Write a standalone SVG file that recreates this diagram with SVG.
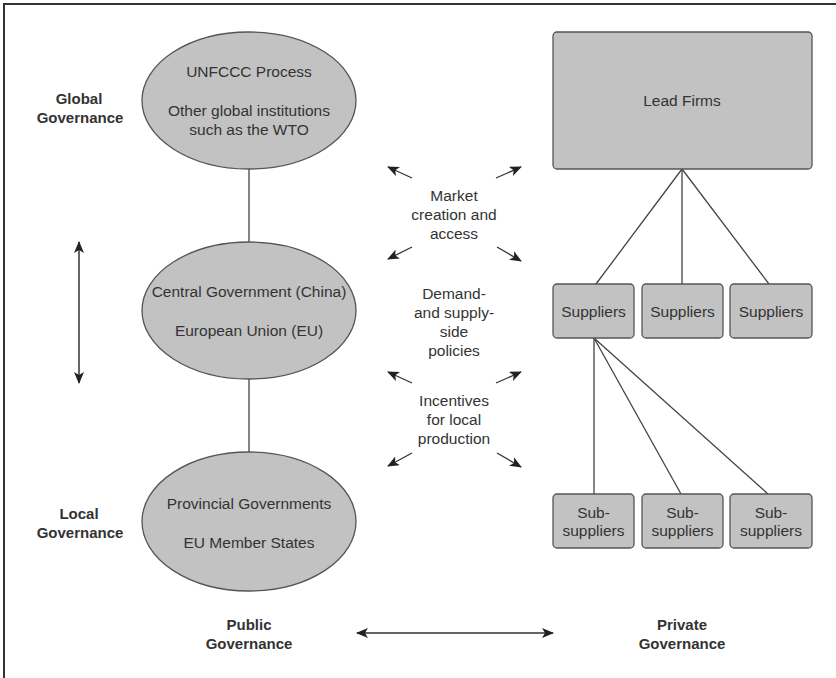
<svg xmlns="http://www.w3.org/2000/svg" width="836" height="678" viewBox="0 0 836 678">
  <style>
    .bg { fill: #ffffff; }
    .frame { stroke: #333333; stroke-width: 2; fill: none; }
    .ell { fill: #c2c2c2; stroke: #555555; stroke-width: 1.3; }
    .box { fill: #c2c2c2; stroke: #555555; stroke-width: 1.3; }
    .t { font-family: "Liberation Sans", Arial, sans-serif; font-size: 15.5px; fill: #333333; text-anchor: middle; }
    .b { font-family: "Liberation Sans", Arial, sans-serif; font-size: 15px; font-weight: bold; fill: #333333; text-anchor: middle; }
    .link { stroke: #444444; stroke-width: 1.3; fill: none; }
    .arr { stroke: #333333; stroke-width: 1.3; fill: none; marker-end: url(#head); }
    .darr { stroke: #333333; stroke-width: 1.5; fill: none; marker-start: url(#head); marker-end: url(#head); }
  </style>
  <defs>
    <marker id="head" viewBox="0 0 12 10" refX="11" refY="5" markerWidth="12" markerHeight="10" markerUnits="userSpaceOnUse" orient="auto-start-reverse">
      <path d="M0,0 L12,5 L0,10 L3,5 z" fill="#222222"/>
    </marker>
  </defs>
  <rect class="bg" x="0" y="0" width="836" height="678"/>
  <path class="frame" d="M4,678 L4,4 L836,4"/>

  <g id="labels">
    <text class="b" x="79" y="103.5">Global</text>
    <text class="b" x="80" y="122.5">Governance</text>
    <text class="b" x="79" y="518.5">Local</text>
    <text class="b" x="80" y="537.5">Governance</text>
    <text class="b" x="249" y="629.5">Public</text>
    <text class="b" x="249" y="648.5">Governance</text>
    <text class="b" x="682" y="629.5">Private</text>
    <text class="b" x="682" y="648.5">Governance</text>
  </g>

  <g id="connectors">
    <line class="link" x1="249" y1="169" x2="249" y2="242"/>
    <line class="link" x1="249" y1="379" x2="249" y2="452"/>
    <line class="link" x1="682" y1="169" x2="596" y2="284"/>
    <line class="link" x1="682" y1="169" x2="682" y2="284"/>
    <line class="link" x1="682" y1="169" x2="769" y2="284"/>
    <line class="link" x1="594" y1="338" x2="594" y2="494"/>
    <line class="link" x1="594" y1="338" x2="681" y2="494"/>
    <line class="link" x1="594" y1="338" x2="768" y2="494"/>
    <line class="darr" x1="79" y1="242" x2="79" y2="383"/>
    <line class="darr" x1="357" y1="633" x2="553" y2="633"/>
    <line class="arr" x1="412" y1="178" x2="388" y2="167"/>
    <line class="arr" x1="496" y1="178" x2="521" y2="167"/>
    <line class="arr" x1="412" y1="247" x2="388" y2="259"/>
    <line class="arr" x1="497" y1="247" x2="521" y2="261"/>
    <line class="arr" x1="412" y1="383" x2="388" y2="372"/>
    <line class="arr" x1="496" y1="383" x2="521" y2="372"/>
    <line class="arr" x1="412" y1="453" x2="388" y2="466"/>
    <line class="arr" x1="497" y1="453" x2="521" y2="467"/>
  </g>

  <g id="global">
    <ellipse class="ell" cx="249" cy="100.5" rx="107" ry="68.5"/>
    <text class="t" x="249" y="76.5">UNFCCC Process</text>
    <text class="t" x="249" y="115.5">Other global institutions</text>
    <text class="t" x="249" y="135">such as the WTO</text>
  </g>
  <g id="central">
    <ellipse class="ell" cx="249" cy="310.5" rx="107" ry="68.5"/>
    <text class="t" x="249" y="297">Central Government (China)</text>
    <text class="t" x="249" y="336">European Union (EU)</text>
  </g>
  <g id="local">
    <ellipse class="ell" cx="249" cy="521.5" rx="107" ry="69.5"/>
    <text class="t" x="249" y="508.5">Provincial Governments</text>
    <text class="t" x="249" y="547.5">EU Member States</text>
  </g>

  <g id="policies">
    <text class="t" x="454" y="200.5">Market</text>
    <text class="t" x="454" y="219.5">creation and</text>
    <text class="t" x="454" y="238.5">access</text>
    <text class="t" x="454" y="298.5">Demand-</text>
    <text class="t" x="454" y="317.5">and supply-</text>
    <text class="t" x="454" y="336.5">side</text>
    <text class="t" x="454" y="355.5">policies</text>
    <text class="t" x="454" y="405.5">Incentives</text>
    <text class="t" x="454" y="424.5">for local</text>
    <text class="t" x="454" y="443.5">production</text>
  </g>

  <g id="lead-firms">
    <rect class="box" x="553" y="32" width="259" height="137" rx="4"/>
    <text class="t" x="682" y="106">Lead Firms</text>
  </g>
  <g id="suppliers-1">
    <rect class="box" x="553" y="284" width="81" height="54" rx="4"/>
    <text class="t" x="593.5" y="317">Suppliers</text>
  </g>
  <g id="suppliers-2">
    <rect class="box" x="642" y="284" width="81" height="54" rx="4"/>
    <text class="t" x="682.5" y="317">Suppliers</text>
  </g>
  <g id="suppliers-3">
    <rect class="box" x="730" y="284" width="82" height="54" rx="4"/>
    <text class="t" x="771" y="317">Suppliers</text>
  </g>
  <g id="sub-suppliers-1">
    <rect class="box" x="553" y="494" width="81" height="54" rx="4"/>
    <text class="t" x="593.5" y="517.5">Sub-</text>
    <text class="t" x="593.5" y="536">suppliers</text>
  </g>
  <g id="sub-suppliers-2">
    <rect class="box" x="642" y="494" width="81" height="54" rx="4"/>
    <text class="t" x="682.5" y="517.5">Sub-</text>
    <text class="t" x="682.5" y="536">suppliers</text>
  </g>
  <g id="sub-suppliers-3">
    <rect class="box" x="730" y="494" width="82" height="54" rx="4"/>
    <text class="t" x="771" y="517.5">Sub-</text>
    <text class="t" x="771" y="536">suppliers</text>
  </g>
</svg>
